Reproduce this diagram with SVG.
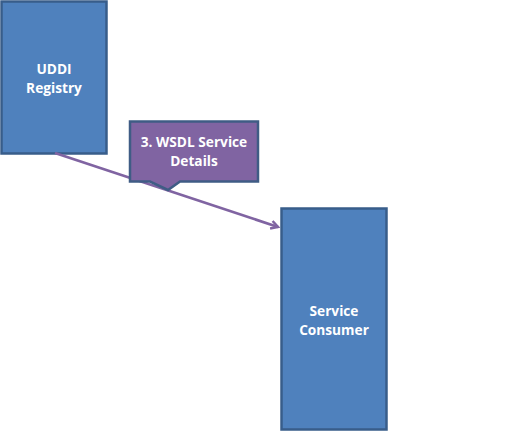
<svg xmlns="http://www.w3.org/2000/svg" width="523" height="433" viewBox="0 0 523 433">
<style>
.box{fill:#4F81BD;stroke:#385D8A;stroke-width:2.5}
.call{fill:#8064A2;stroke:#3F5C85;stroke-width:2.5}
.t{font-family:"Open Sans","Liberation Sans",sans-serif;font-weight:bold;font-size:13.7px;fill:#FFFFFF;text-anchor:middle}
.c{stroke:#8064A2;stroke-width:2.7;fill:none}
</style>
<defs>
<marker id="ah" markerWidth="10" markerHeight="10" refX="8" refY="5" orient="auto" markerUnits="userSpaceOnUse">
<path d="M1,1 L8,5 L1,9" fill="none" stroke="#8064A2" stroke-width="2.5"/>
</marker>
</defs>
<rect width="523" height="433" fill="#FFFFFF"/>
<g id="uddi">
<rect class="box" x="1.5" y="1.5" width="105" height="152"/>
<text class="t" x="54" y="74">UDDI</text>
<text class="t" x="54" y="93">Registry</text>
</g>
<g id="consumer">
<rect class="box" x="281.5" y="208.5" width="105" height="221"/>
<text class="t" x="334" y="316">Service</text>
<text class="t" x="334" y="335">Consumer</text>
</g>
<g id="connectors">
<line class="c" x1="55" y1="153" x2="278" y2="227" marker-end="url(#ah)"/>
</g>
<g id="label">
<path class="call" d="M130,121.5 H258 V181.5 H180 L168,190 L150,181.5 H130 Z"/>
<text class="t" x="194" y="147">3. WSDL Service</text>
<text class="t" x="194" y="166">Details</text>
</g>
</svg>
